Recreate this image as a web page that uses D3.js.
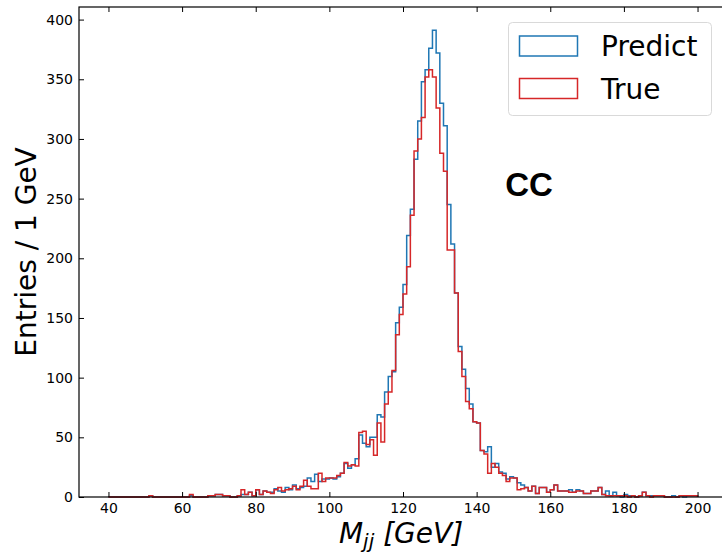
<!DOCTYPE html>
<html>
<head>
<meta charset="utf-8">
<script src="https://cdn.jsdelivr.net/npm/d3@7"></script>
<style>
  body { margin: 0; background: #fff; }
  text { font-family: "DejaVu Sans", sans-serif; }
</style>
</head>
<body>
<svg id="chart" width="722" height="554"></svg>
<script>
// 1 GeV bins from 40 to 200
var binLow = 40;
var binHigh = 200;
var binWidth = 1;

var predictCounts = [
  0, 0, 0, 0, 0, 0, 0, 0, 0, 0,
  0, 1, 0, 0, 0, 0, 0, 0, 0, 0,
  0, 0, 1, 0, 0, 0, 0, 1, 1, 2,
  2, 1, 1, 0, 0, 1, 2, 2, 4, 1,
  6, 2, 5, 4, 4, 7, 5, 4, 8, 6,
  10, 7, 8, 9, 16, 13, 19, 13, 15, 15,
  16, 15, 17, 20, 28, 24, 27, 32, 52, 45,
  42, 50, 50, 69, 67, 88, 101, 105, 146, 159,
  178, 219, 241, 283, 315, 348, 358, 376, 391, 372,
  330, 311, 245, 212, 171, 126, 107, 91, 78, 63,
  62, 39, 38, 42, 25, 28, 21, 20, 15, 17,
  16, 12, 10, 8, 5, 9, 3, 8, 8, 4,
  6, 10, 5, 5, 5, 6, 4, 6, 5, 3,
  3, 5, 5, 8, 2, 5, 1, 4, 1, 0,
  2, 1, 1, 0, 1, 4, 1, 1, 1, 1,
  1, 0, 0, 1, 0, 1, 0, 1, 1, 1
];

var trueCounts = [
  0, 0, 0, 0, 0, 0, 0, 0, 0, 0,
  0, 1, 0, 0, 0, 0, 0, 0, 0, 0,
  0, 0, 2, 0, 0, 0, 0, 1, 1, 2,
  2, 1, 1, 0, 0, 1, 6, 2, 4, 1,
  6, 2, 5, 4, 3, 6, 8, 5, 6, 7,
  9, 6, 9, 14, 9, 7, 7, 20, 13, 16,
  16, 16, 18, 20, 29, 26, 27, 26, 54, 55,
  44, 48, 35, 62, 46, 78, 88, 106, 136, 153,
  170, 193, 236, 290, 300, 318, 352, 358, 352, 326,
  288, 273, 207, 207, 171, 122, 101, 80, 74, 63,
  62, 39, 36, 20, 28, 25, 20, 18, 13, 16,
  16, 6, 7, 8, 5, 9, 3, 8, 8, 4,
  6, 10, 5, 5, 5, 4, 4, 5, 5, 3,
  3, 5, 5, 8, 2, 1, 1, 1, 1, 1,
  1, 0, 1, 0, 1, 4, 1, 0, 1, 1,
  1, 0, 0, 0, 0, 1, 1, 1, 1, 1
];

var xTicks = [40, 60, 80, 100, 120, 140, 160, 180, 200];
var yTicks = [0, 50, 100, 150, 200, 250, 300, 350, 400];

var seriesList = [
  { name: 'Predict', color: '#1f77b4', counts: predictCounts },
  { name: 'True', color: '#d62728', counts: trueCounts }
];

var frame = { left: 79, top: 7, right: 727, bottom: 497 };

var svg = d3.select('#chart');

var x = d3.scaleLinear().domain([32, 208]).range([frame.left, frame.right]);
var y = d3.scaleLinear().domain([0, 410.55]).range([frame.bottom, frame.top]);

// step outline like histtype='step'
function stepPoints(counts) {
  var pts = [[binLow, 0]];
  counts.forEach(function(c, i) {
    var lo = binLow + i * binWidth;
    pts.push([lo, c]);
    pts.push([lo + binWidth, c]);
  });
  pts.push([binHigh, 0]);
  return pts;
}

var line = d3.line()
  .x(function(d) { return x(d[0]); })
  .y(function(d) { return y(d[1]); });

svg.append('g').selectAll('path')
  .data(seriesList)
  .enter().append('path')
  .attr('d', function(s) { return line(stepPoints(s.counts)); })
  .attr('fill', 'none')
  .attr('stroke', function(s) { return s.color; })
  .attr('stroke-width', 1.5)
  .attr('stroke-linejoin', 'miter');

// axes with inward ticks
var xAxis = svg.append('g')
  .attr('transform', 'translate(0,' + frame.bottom + ')')
  .call(d3.axisBottom(x).tickValues(xTicks).tickSize(-5).tickPadding(6));
var xTop = svg.append('g')
  .attr('transform', 'translate(0,' + frame.top + ')')
  .call(d3.axisTop(x).tickValues(xTicks).tickSize(-5).tickFormat(''));
var yAxis = svg.append('g')
  .attr('transform', 'translate(' + frame.left + ',0)')
  .call(d3.axisLeft(y).tickValues(yTicks).tickSize(-5).tickPadding(6));
var yRight = svg.append('g')
  .attr('transform', 'translate(' + frame.right + ',0)')
  .call(d3.axisRight(y).tickValues(yTicks).tickSize(-5).tickFormat(''));

[xAxis, xTop, yAxis, yRight].forEach(function(g) {
  g.select('.domain').remove();
  g.selectAll('.tick line').attr('stroke', '#000').attr('stroke-width', 1);
  g.selectAll('.tick text')
    .attr('fill', '#000')
    .style('font-family', '"DejaVu Sans", sans-serif')
    .style('font-size', '14px');
});

svg.append('rect')
  .attr('x', frame.left)
  .attr('y', frame.top)
  .attr('width', frame.right - frame.left)
  .attr('height', frame.bottom - frame.top)
  .attr('fill', 'none')
  .attr('stroke', '#000')
  .attr('stroke-width', 1.2);

// axis titles
svg.append('text')
  .attr('transform', 'translate(36,252) rotate(-90)')
  .attr('text-anchor', 'middle')
  .style('font-size', '28px')
  .text('Entries / 1 GeV');

var xt = svg.append('text')
  .attr('x', 401)
  .attr('y', 543)
  .attr('text-anchor', 'middle')
  .style('font-size', '28px')
  .style('font-style', 'italic');
xt.append('tspan').text('M');
xt.append('tspan').attr('dy', 5).style('font-size', '20px').text('jj');
xt.append('tspan').attr('dy', -5).text(' [GeV]');

svg.append('text')
  .attr('x', 529)
  .attr('y', 196)
  .attr('text-anchor', 'middle')
  .style('font-family', '"Liberation Sans", Arial, sans-serif')
  .style('font-size', '33px')
  .style('font-weight', 'bold')
  .text('CC');

// legend
var legend = svg.append('g');
legend.append('rect')
  .attr('x', 508.5).attr('y', 22.5)
  .attr('width', 203).attr('height', 93)
  .attr('rx', 4)
  .attr('fill', '#fff')
  .attr('fill-opacity', 0.8)
  .attr('stroke', '#d9d9d9');

var items = legend.selectAll('.item')
  .data(seriesList)
  .enter().append('g')
  .attr('class', 'item')
  .attr('transform', function(d, i) { return 'translate(0,' + (i * 42.5) + ')'; });

items.append('rect')
  .attr('x', 519.5).attr('y', 36)
  .attr('width', 58).attr('height', 20)
  .attr('fill', 'none')
  .attr('stroke', function(d) { return d.color; })
  .attr('stroke-width', 1.5);

items.append('text')
  .attr('x', 601)
  .attr('y', 56)
  .style('font-size', '28px')
  .text(function(d) { return d.name; });
</script>
</body>
</html>
